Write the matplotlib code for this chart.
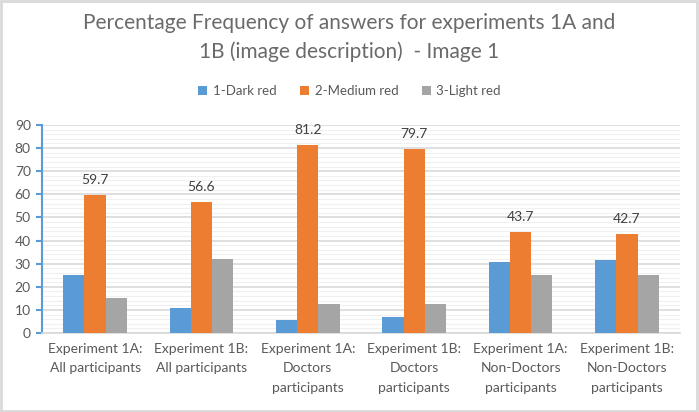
import matplotlib
matplotlib.use("Agg")
import matplotlib.pyplot as plt
import numpy as np
from matplotlib.ticker import MultipleLocator
from matplotlib.patches import Rectangle

categories = ["Experiment 1A:\nAll participants", "Experiment 1B:\nAll participants",
              "Experiment 1A:\nDoctors\nparticipants", "Experiment 1B:\nDoctors\nparticipants",
              "Experiment 1A:\nNon-Doctors\nparticipants", "Experiment 1B:\nNon-Doctors\nparticipants"]
series_names = ["1-Dark red", "2-Medium red", "3-Light red"]
dark_red = [25, 11, 5.5, 6.8, 30.8, 31.7]
medium_red = [59.7, 56.6, 81.2, 79.7, 43.7, 42.7]
light_red = [15, 32, 12.6, 12.6, 25, 25]
colors = ["#5B9BD5", "#ED7D31", "#A5A5A5"]
txt = "#595959"

plt.rcParams['font.family'] = ['Lato', 'DejaVu Sans']

fig = plt.figure(figsize=(6.99, 4.12), dpi=100)
ax = fig.add_axes([0.060, 0.1917, 0.913, 0.505])

x = np.arange(len(categories))
w = 0.2
vals = [dark_red, medium_red, light_red]
for i, (v, c, n) in enumerate(zip(vals, colors, series_names)):
    bars = ax.bar(x + (i - 1) * w, v, w, color=c, label=n, zorder=3)
    if i == 1:
        for b, val in zip(bars, v):
            ax.text(b.get_x() + b.get_width() / 2, val + 4, f"{val:.1f}",
                    ha="center", va="bottom", fontsize=10, color="#404040")

ax.set_xlim(-0.5, len(categories) - 0.5)
ax.set_ylim(0, 90)
ax.yaxis.set_major_locator(MultipleLocator(10))
ax.yaxis.set_minor_locator(MultipleLocator(2))
ax.grid(axis="y", which="major", color="#D9D9D9", linewidth=1.2, zorder=0)
ax.grid(axis="y", which="minor", color="#F0F0F0", linewidth=0.8, zorder=0)
ax.set_axisbelow(True)

for s in ["top", "right"]:
    ax.spines[s].set_visible(False)
ax.spines["left"].set_color("#5B9BD5")
ax.spines["left"].set_linewidth(1.5)
ax.spines["bottom"].set_color("#D9D9D9")
ax.spines["bottom"].set_linewidth(1.2)

ax.set_xticks(x)
ax.set_xticklabels(categories, fontsize=10, color=txt)
for lab in ax.get_xticklabels():
    lab.set_linespacing(1.75)
ax.tick_params(axis="x", length=0, pad=7)
ax.tick_params(axis="y", which="major", length=4, width=1.5, color="#5B9BD5",
               labelsize=10, labelcolor=txt, pad=4)
ax.tick_params(axis="y", which="minor", length=0)

fig.text(0.5, 0.908, "Percentage Frequency of answers for experiments 1A and\n1B (image description)  - Image 1",
         ha="center", va="center", fontsize=15, color="#6a6a6a", linespacing=1.5)

leg = fig.legend(loc="center", bbox_to_anchor=(0.5, 0.778), ncol=3, frameon=False,
                 fontsize=9.5, handlelength=0.7, handleheight=0.7, handletextpad=0.4,
                 columnspacing=1.8, labelcolor=txt)

fig.patches.append(Rectangle((0.002, 0.003), 0.995, 0.994, transform=fig.transFigure,
                             fill=False, edgecolor="#D9D9D9", linewidth=2.0))

fig.savefig("out.png", dpi=100)
